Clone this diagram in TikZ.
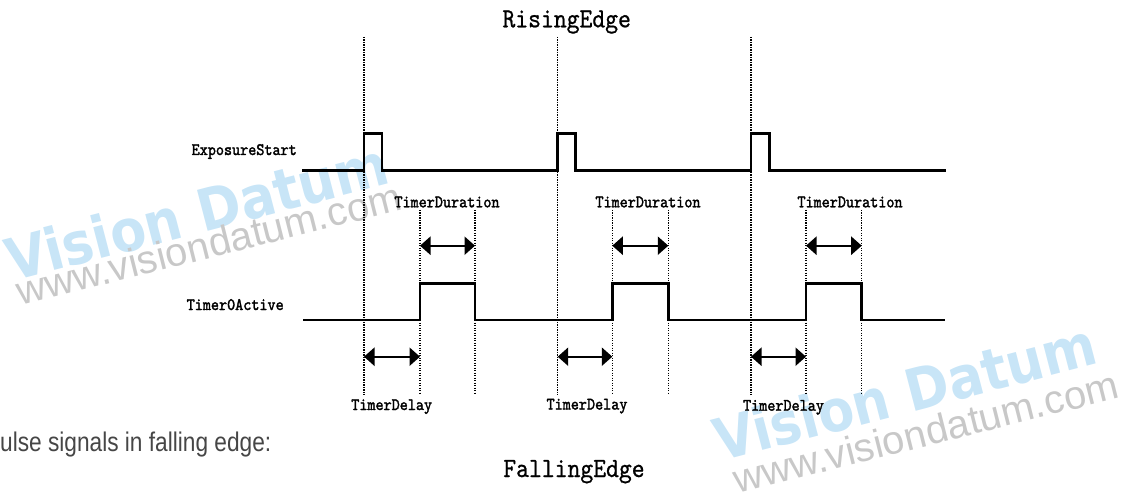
\documentclass[tikz,border=0pt]{standalone}
\usepackage{fontspec}
\usetikzlibrary{arrows.meta}
\newfontfamily\labfont{lmmono10-regular.otf}[FakeStretch=0.88,FakeBold=1.8]
\newfontfamily\ttlfont{lmmono10-regular.otf}[FakeStretch=0.88,FakeBold=0.7]
\newfontfamily\wmfont{DejaVu Sans}[FakeStretch=0.9]
\newfontfamily\wmreg{Liberation Sans}
\newfontfamily\txtfont{Liberation Sans}[FakeStretch=0.84]
\definecolor{wmblue}{RGB}{200,229,247}
\definecolor{wmgray}{RGB}{200,200,200}
\definecolor{txtgray}{RGB}{70,70,70}
\begin{document}
\begin{tikzpicture}[x=1pt,y=-1pt,
  sig/.style={line width=2.6pt, line join=miter, line cap=butt},
  guide/.style={line width=1.4pt, dash pattern=on 1.3pt off 1.2pt},
  dim/.style={line width=2.4pt, {Triangle[length=10.5pt,width=18pt]}-{Triangle[length=10.5pt,width=18pt]}},
  lab/.style={font=\labfont\fontsize{17.5}{20}\selectfont, inner sep=0pt, anchor=base},
  ttl/.style={font=\ttlfont\fontsize{27.8}{30}\selectfont, inner sep=0pt, anchor=base},
  wmA/.style={font=\wmfont\bfseries\fontsize{58}{62}\selectfont, text=wmblue, inner sep=0pt, anchor=base west, rotate=14.6},
  wmB/.style={font=\wmreg\fontsize{40}{44}\selectfont, text=wmgray, inner sep=0pt, anchor=base west, rotate=14.1}]
\useasboundingbox (0,0) rectangle (1128,500);
% watermarks
\node[wmA] (wm1) at (12,282) {Vision Datum};
\node[wmB] (wm2) at (20,306) {www.visiondatum.com};
\node[wmA] (wm3) at (720,462) {Vision Datum};
\node[wmB] (wm4) at (737,494) {www.visiondatum.com};
% guides, dimension arrows and labels
\foreach \e/\r/\f/\dx/\tx/\tb [count=\i] in {364/420/475/447/391.7/410, 557.7/612.3/668.3/648/587/409.5, 751/806/861.7/850/783.5/410.7} {
  \coordinate (g\i t) at (\e,37);
  \coordinate (g\i b) at (\e,395);
  \coordinate (r\i t) at (\r,210);
  \coordinate (r\i b) at (\r,394);
  \coordinate (f\i t) at (\f,210);
  \coordinate (f\i b) at (\f,394);
  \draw[guide] (g\i t) -- (g\i b);
  \draw[guide] (r\i t) -- (r\i b);
  \draw[guide] (f\i t) -- (f\i b);
  \coordinate (dl\i a) at (\e,356.7);
  \coordinate (dl\i b) at (\r,356.7);
  \coordinate (du\i a) at (\r,245.7);
  \coordinate (du\i b) at (\f,245.7);
  \draw[dim] (dl\i a) -- (dl\i b);
  \draw[dim] (du\i a) -- (du\i b);
  \node[lab] (dur\i) at (\dx,207.3) {TimerDuration};
  \node[lab] (del\i) at (\tx,\tb) {TimerDelay};
}
% signals
\draw[sig] (302,170.5) -- (364,170.5) -- (364,133.3) -- (382,133.3) -- (382,170.5)
  -- (557.7,170.5) -- (557.7,133.3) -- (575.7,133.3) -- (575.7,170.5)
  -- (751,170.5) -- (751,133.3) -- (769.3,133.3) -- (769.3,170.5) -- (946,170.5);
\draw[sig] (303.3,320) -- (420,320) -- (420,283.3) -- (475,283.3) -- (475,320)
  -- (612.3,320) -- (612.3,283.3) -- (668.3,283.3) -- (668.3,320)
  -- (806,320) -- (806,283.3) -- (861.7,283.3) -- (861.7,320) -- (945,320);
% texts
\node[ttl] (rise) at (566.7,27.3) {RisingEdge};
\node[ttl] (fall) at (574,477) {FallingEdge};
\node[lab] (exp) at (244.2,155) {ExposureStart};
\node[lab] (tim) at (235.2,310) {Timer0Active};
\node[font=\txtfont\fontsize{27}{30}\selectfont, text=txtgray, inner sep=0pt, anchor=base west] (note) at (0,451) {ulse signals in falling edge:};
\end{tikzpicture}
\end{document}
